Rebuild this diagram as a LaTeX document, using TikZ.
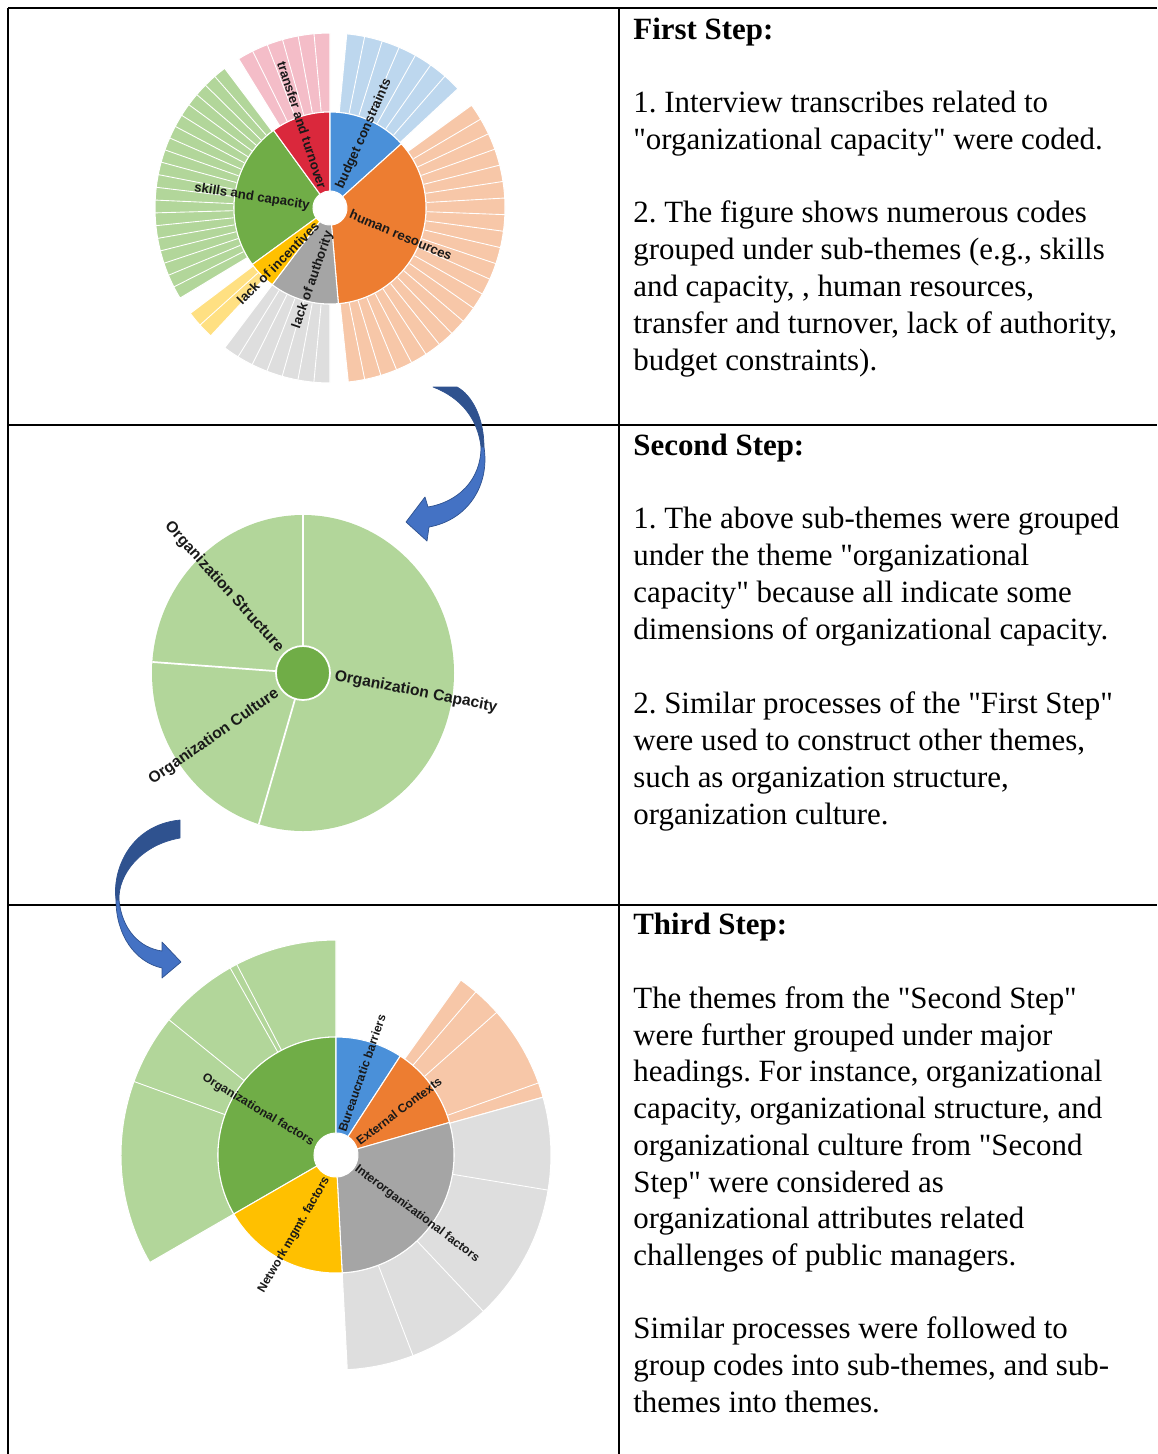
\documentclass[tikz,border=0pt]{standalone}
\usepackage{fontspec}
\setmainfont{Liberation Serif}[Ligatures=TeXOff]
\newfontfamily\chartfont{Liberation Sans}
\usepackage{tikz}
\frenchspacing

\definecolor{cgreen}{RGB}{112,173,71}
\definecolor{cgreenl}{RGB}{178,214,154}
\definecolor{cred}{RGB}{218,40,60}
\definecolor{cpink}{RGB}{244,189,200}
\definecolor{cblue}{RGB}{74,144,217}
\definecolor{cbluel}{RGB}{189,215,238}
\definecolor{corange}{RGB}{237,125,49}
\definecolor{corangel}{RGB}{247,199,168}
\definecolor{cgray}{RGB}{165,165,165}
\definecolor{cgrayl}{RGB}{222,222,222}
\definecolor{cyellow}{RGB}{255,192,0}
\definecolor{cyellowl}{RGB}{255,224,130}
\definecolor{arrdark}{RGB}{47,82,143}
\definecolor{arrlight}{RGB}{68,114,196}

\tikzset{
  txt/.style={anchor=base west, inner sep=0pt, font=\fontsize{17.6pt}{21pt}\selectfont},
  head/.style={txt, font=\fontsize{17.6pt}{21pt}\selectfont\bfseries},
  lab/.style={inner sep=0pt, text=black!90},
  labA/.style={lab, font=\chartfont\bfseries\fontsize{7.5pt}{9pt}\selectfont},
  labB/.style={lab, font=\chartfont\bfseries\fontsize{8.9pt}{10pt}\selectfont},
  labC/.style={lab, font=\chartfont\bfseries\fontsize{6.9pt}{8pt}\selectfont},
  rule/.style={line width=1.1pt},
  sep/.style={white, line width=0.5pt},
  arrbody/.style={draw=arrdark, line width=0.4pt, line join=round}
}

% color, start angle, end angle, inner radius, outer radius
\newcommand{\ringpart}[5]{%
  \fill[#1, draw=white, line width=0.6pt] (#2:#4) arc[start angle=#2, end angle=#3, radius=#4]
    -- (#3:#5) arc[start angle=#3, end angle=#2, radius=#5] -- cycle;}

\begin{document}
\begin{tikzpicture}[x=0.02cm, y=-0.02cm]
  \useasboundingbox (0,0) rectangle (1157,1454);

  % table
  \draw[rule] (8,8) -- (1157,8);
  \draw[rule] (8,425) -- (1157,425);
  \draw[rule] (8,905) -- (1157,905);
  \draw[rule] (8,8) -- (8,1454);
  \draw[rule] (619,8) -- (619,1454);

  % first chart
  \begin{scope}[shift={(330,208)}, x=0.02cm, y=0.02cm]
    \ringpart{cpink}{90}{121.5}{96}{175}
    \ringpart{cbluel}{43}{84.5}{96}{175}
    \ringpart{corangel}{-84}{36}{96}{175}
    \ringpart{cgrayl}{233}{270}{96}{175}
    \ringpart{cyellowl}{217}{227}{96}{175}
    \ringpart{cgreenl}{127}{211}{96}{175}
    \foreach \k in {1,...,5} \draw[sep] ({90+\k*31.5/6}:97) -- ({90+\k*31.5/6}:175);
    \foreach \k in {1,...,6} \draw[sep] ({43+\k*41.5/7}:97) -- ({43+\k*41.5/7}:175);
    \foreach \k in {1,...,21} \draw[sep] ({-84+\k*120/22}:97) -- ({-84+\k*120/22}:175);
    \foreach \k in {1,...,6} \draw[sep] ({233+\k*37/7}:97) -- ({233+\k*37/7}:175);
    \foreach \k in {1} \draw[sep] ({217+\k*10/2}:97) -- ({217+\k*10/2}:175);
    \foreach \k in {1,...,19} \draw[sep] ({127+\k*84/20}:97) -- ({127+\k*84/20}:175);
    \ringpart{cgreen}{126}{216}{17}{96}
    \ringpart{cred}{90}{126}{17}{96}
    \ringpart{cblue}{42}{90}{17}{96}
    \ringpart{corange}{-85}{42}{17}{96}
    \ringpart{cgray}{233}{275}{17}{96}
    \ringpart{cyellow}{216}{233}{17}{96}
  \end{scope}
  \node[labA, rotate=-72] (ltrans) at (302,125) {transfer and turnover};
  \node[labA, rotate=66] (lbudget) at (364,134) {budget constraints};
  \node[labA, rotate=-9] (lskills) at (252,197) {skills and capacity};
  \node[labA, rotate=-23] (lhuman) at (401,235) {human resources};
  \node[labA, rotate=45] (lincent) at (278,263) {lack of incentives};
  \node[labA, rotate=71] (lauth) at (313,280) {lack of authority};

  % second chart
  \begin{scope}[shift={(303,673)}, x=0.02cm, y=0.02cm]
    \fill[cgreenl] (0,0) ellipse[x radius=151, y radius=158];
    \draw[white, line width=1pt] (90:27) -- (90:158);
    \draw[white, line width=1pt] (176:27) -- (176:151 and 158);
    \draw[white, line width=1pt] (253:27) -- (253:151 and 158);
    \fill[cgreen, draw=white, line width=1pt] (0,0) circle[radius=27];
  \end{scope}
  \node[labB, rotate=-48] (lstruct) at (224,587) {Organization Structure};
  \node[labB, rotate=-11] (lcap) at (416,692) {Organization Capacity};
  \node[labB, rotate=35] (lcult) at (214,737) {Organization Culture};

  % third chart
  \begin{scope}[shift={(336,1155)}, x=0.02cm, y=0.02cm]
    \ringpart{cgreenl}{90}{210}{118}{215}
    \ringpart{corangel}{15.6}{54.5}{118}{215}
    \ringpart{cgrayl}{-87}{15.6}{118}{215}
    \foreach \a in {117.5,119.5,141,160} \draw[sep] (\a:118) -- (\a:215);
    \foreach \a in {19.6,41.6,49.4} \draw[sep] (\a:118) -- (\a:215);
    \foreach \a in {-9.4,-46.7,-69} \draw[sep] (\a:118) -- (\a:215);
    \ringpart{cgreen}{90}{210}{22}{118}
    \ringpart{cblue}{57}{90}{22}{118}
    \ringpart{corange}{16}{57}{22}{118}
    \ringpart{cgray}{-87}{16}{22}{118}
    \ringpart{cyellow}{210}{273}{22}{118}
  \end{scope}
  \node[labC, rotate=-31] (lorgf) at (258,1110) {Organizational factors};
  \node[labC, rotate=71] (lbur) at (362,1073) {Bureaucratic barriers};
  \node[labC, rotate=37] (lext) at (399,1111) {External Contexts};
  \node[labC, rotate=-37] (linter) at (417,1214) {Interorganizational factors};
  \node[labC, rotate=60] (lnet) at (294,1235) {Network mgmt. factors};

  % curved arrows
  \fill[arrdark, arrbody] (433,387) .. controls (462,398) and (478,420) .. (481,447)
    -- (484,447) .. controls (484,418) and (472,395) .. (457,387) -- cycle;
  \fill[arrlight, arrbody] (481,447) .. controls (481,480) and (458,502) .. (428,507)
    -- (425,497) -- (406,522) -- (427,541) -- (429,527)
    .. controls (468,520) and (490,485) .. (484,447) -- cycle;
  \fill[arrdark, arrbody] (180,820) .. controls (130,825) and (112,870) .. (116,900)
    -- (119,900) .. controls (118,875) and (140,845) .. (180,838) -- cycle;
  \fill[arrlight, arrbody] (116,900) .. controls (116,935) and (135,962) .. (162,968)
    -- (162,978) -- (181,962) -- (162,942) -- (162,951)
    .. controls (140,948) and (122,930) .. (119,900) -- cycle;

  % first step text
  \node[head] (s1h) at (633,39) {First Step:};
  \node[txt] (s1a) at (633,112) {1. Interview transcribes related to};
  \node[txt] (s1b) at (633,149) {"organizational capacity" were coded.};
  \node[txt] (s1c) at (633,222) {2. The figure shows numerous codes};
  \node[txt] (s1d) at (633,259) {grouped under sub-themes (e.g., skills};
  \node[txt] (s1e) at (633,296) {and capacity, , human resources,};
  \node[txt] (s1f) at (633,333) {transfer and turnover, lack of authority,};
  \node[txt] (s1g) at (633,370) {budget constraints).};

  % second step text
  \node[head] (s2h) at (633,455) {Second Step:};
  \node[txt] (s2a) at (633,528) {1. The above sub-themes were grouped};
  \node[txt] (s2b) at (633,565) {under the theme "organizational};
  \node[txt] (s2c) at (633,602) {capacity" because all indicate some};
  \node[txt] (s2d) at (633,639) {dimensions of organizational capacity.};
  \node[txt] (s2e) at (633,713) {2. Similar processes of the "First Step"};
  \node[txt] (s2f) at (633,750) {were used to construct other themes,};
  \node[txt] (s2g) at (633,787) {such as organization structure,};
  \node[txt] (s2h) at (633,824) {organization culture.};

  % third step text
  \node[head] (s3h) at (633,934) {Third Step:};
  \node[txt] (s3a) at (633,1008) {The themes from the "Second Step"};
  \node[txt] (s3b) at (633,1045) {were further grouped under major};
  \node[txt] (s3c) at (633,1081) {headings. For instance, organizational};
  \node[txt] (s3d) at (633,1118) {capacity, organizational structure, and};
  \node[txt] (s3e) at (633,1155) {organizational culture from "Second};
  \node[txt] (s3f) at (633,1192) {Step" were considered as};
  \node[txt] (s3g) at (633,1228) {organizational attributes related};
  \node[txt] (s3h) at (633,1265) {challenges of public managers.};
  \node[txt] (s3i) at (633,1338) {Similar processes were followed to};
  \node[txt] (s3j) at (633,1375) {group codes into sub-themes, and sub-};
  \node[txt] (s3k) at (633,1412) {themes into themes.};
\end{tikzpicture}
\end{document}
